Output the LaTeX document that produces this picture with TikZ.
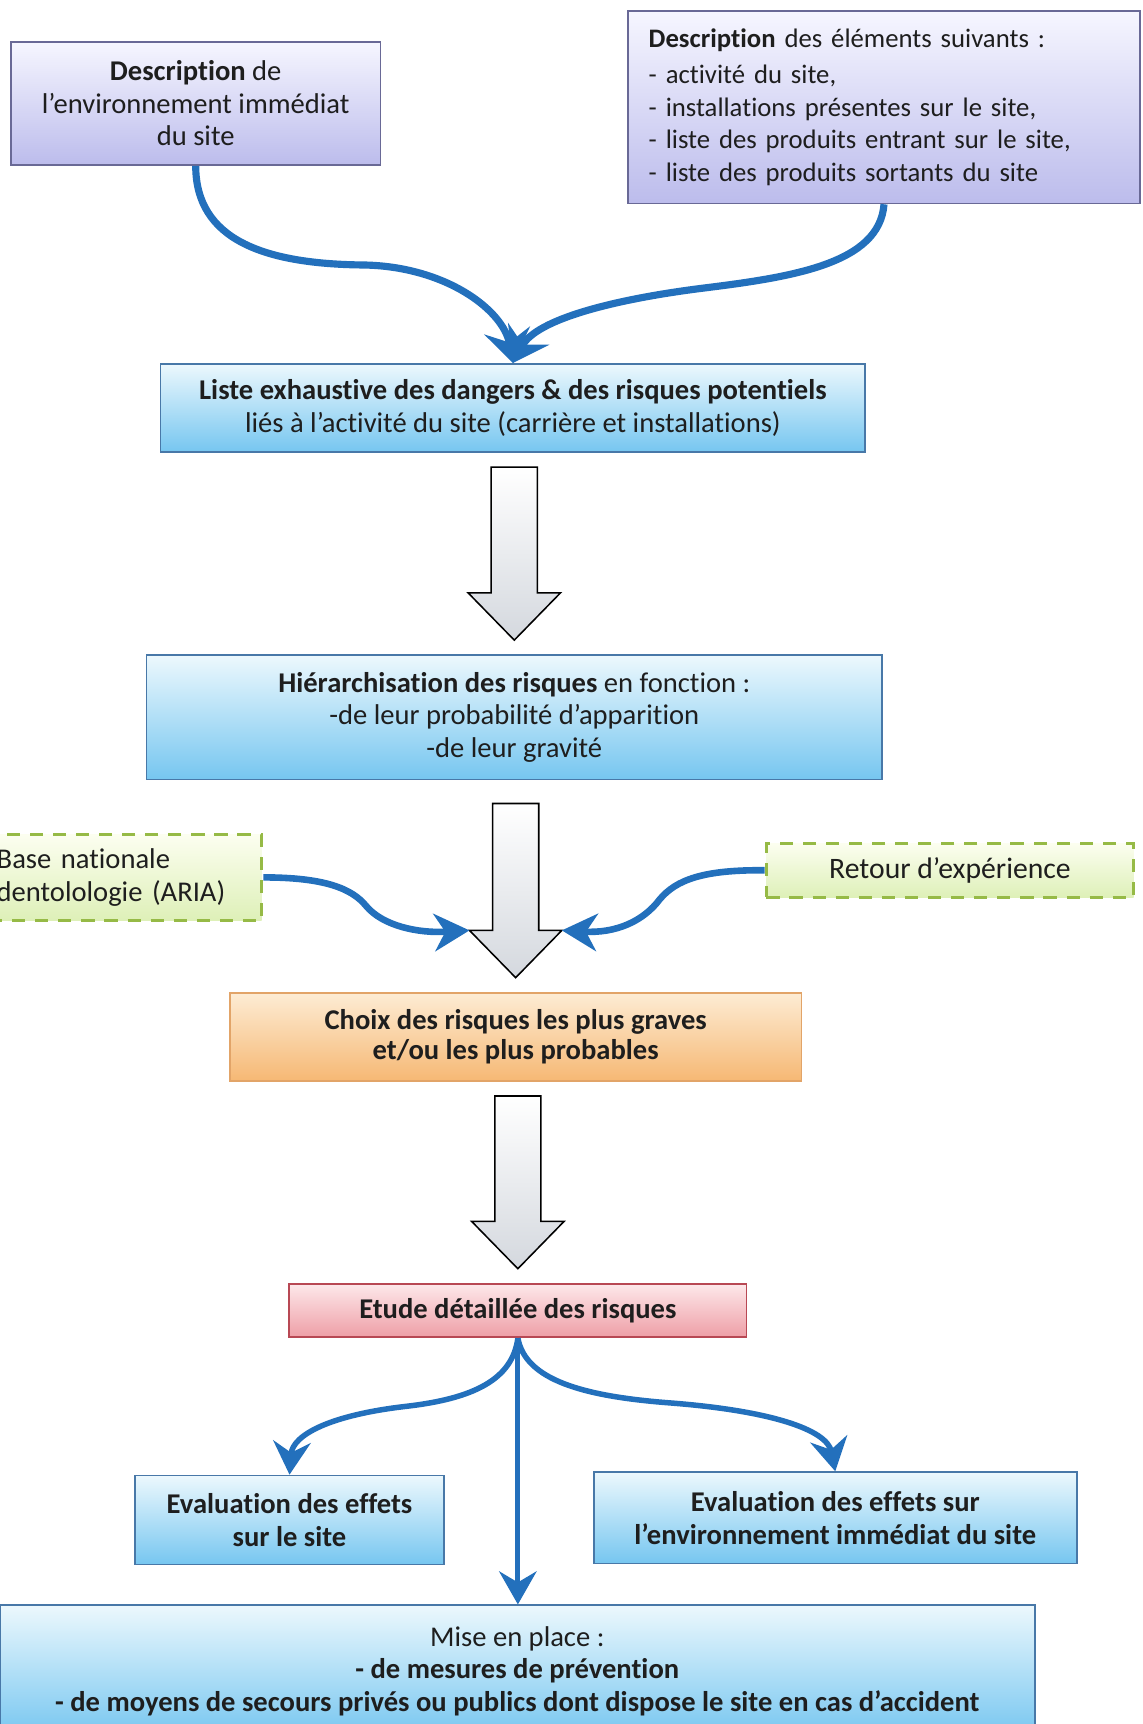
\documentclass[tikz,border=0pt]{standalone}
\usepackage{fontspec}
\setmainfont{Carlito}[Ligatures=NoCommon]
\usetikzlibrary{arrows.meta,calc}
\definecolor{arrowblue}{RGB}{35,112,188}
\definecolor{lavtop}{RGB}{246,246,255}
\definecolor{lavbot}{RGB}{188,188,236}
\definecolor{lavline}{RGB}{105,105,150}
\definecolor{bluetop}{RGB}{236,248,253}
\definecolor{bluebot}{RGB}{118,198,240}
\definecolor{blueline}{RGB}{72,120,168}
\definecolor{orgtop}{RGB}{253,236,212}
\definecolor{orgbot}{RGB}{246,184,116}
\definecolor{orgline}{RGB}{226,164,104}
\definecolor{pinktop}{RGB}{253,232,234}
\definecolor{pinkbot}{RGB}{238,158,166}
\definecolor{pinkline}{RGB}{184,72,84}
\definecolor{grntop}{RGB}{252,254,240}
\definecolor{grnbot}{RGB}{222,240,184}
\definecolor{grnline}{RGB}{150,186,70}
\definecolor{bagray}{RGB}{212,216,222}
\definecolor{txt}{RGB}{30,30,30}
\tikzset{
  basebox/.style={rectangle, inner sep=0pt, align=center, line width=1.6pt, text=txt,
    font=\fontsize{26}{29.5}\selectfont},
  lavbox/.style={basebox, draw=lavline, top color=lavtop, bottom color=lavbot},
  bluebox/.style={basebox, draw=blueline, top color=bluetop, bottom color=bluebot},
  orangebox/.style={basebox, draw=orgline, top color=orgtop, bottom color=orgbot},
  pinkbox/.style={basebox, draw=pinkline, top color=pinktop, bottom color=pinkbot},
  greenbox/.style={basebox, draw=grnline, line width=3pt, dash pattern=on 12pt off 9pt,
    top color=grntop, bottom color=grnbot},
  blockarrow/.style={draw=black, line width=1.4pt, line join=miter, top color=white, bottom color=bagray},
  flowbig/.style={draw=arrowblue, line width=6.5pt, -{Stealth[length=30pt,width=42pt,inset=11pt]}},
  flowmid/.style={draw=arrowblue, line width=6pt, -{Stealth[length=32pt,width=34pt,inset=10pt]}},
  flowsm/.style={draw=arrowblue, line width=5pt, -{Stealth[length=30pt,width=34pt,inset=10pt]}},
}
\newcommand\blockarr[4]{%
  \draw[blockarrow] let \p1=(#1.south), \p2=(#2.north) in
    (\x2-21pt,\y1-#3pt) -- (\x2+21pt,\y1-#3pt) -- (\x2+21pt,\y2+56pt)
    -- (\x2+42pt,\y2+56pt) coordinate (#4R) -- (\x2,\y2+13pt)
    -- (\x2-42pt,\y2+56pt) coordinate (#4L) -- (\x2-21pt,\y2+56pt) -- cycle;}
\begin{document}
\begin{tikzpicture}[x=1pt,y=-1pt]
\useasboundingbox (0,0) rectangle (1039,1568);
\fill[white] (0,0) rectangle (1039,1568);

% boxes
\node[lavbox, minimum width=336pt, minimum height=112pt] (b1) at (178,94)
  {\textbf{Description} de\\l’environnement immédiat\\du site};
\node[lavbox, minimum width=466pt, minimum height=175pt, text width=428pt, align=left,
  font=\fontsize{24.3}{29.8}\selectfont] (b2) at (804,97.5)
  {\textbf{Description} des éléments suivants :\\[3pt]
   - activité du site,\\
   - installations présentes sur le site,\\
   - liste des produits entrant sur le site,\\
   - liste des produits sortants du site};
\node[bluebox, minimum width=641pt, minimum height=80pt] (b3) at (466.5,371)
  {\textbf{Liste exhaustive des dangers \& des risques potentiels}\\liés à l’activité du site (carrière et installations)};
\node[bluebox, minimum width=669pt, minimum height=113pt] (b4) at (467.75,652.5)
  {\textbf{Hiérarchisation des risques} en fonction :\\-de leur probabilité d’apparition\\-de leur gravité};
\node[greenbox, minimum width=248pt, minimum height=78pt, text width=234pt, align=left] (lbox) at (114,798)
  {Base nationale\\dentolologie (ARIA)};
\node[greenbox, minimum width=334pt, minimum height=49pt, font=\fontsize{27}{29.5}\selectfont] (rbox) at (864,791.5)
  {Retour d’expérience};
\node[orangebox, minimum width=520pt, minimum height=80pt,
  font=\fontsize{26}{27.5}\selectfont\bfseries] (b5) at (469,943)
  {Choix des risques les plus graves\\et/ou les plus probables};
\node[pinkbox, minimum width=416pt, minimum height=48.6pt, font=\fontsize{26}{29.5}\selectfont\bfseries] (b6) at (471,1192)
  {Etude détaillée des risques};
\node[bluebox, minimum width=281.4pt, minimum height=81pt, font=\fontsize{26}{30}\selectfont\bfseries] (b7) at (263.3,1382.5)
  {Evaluation des effets\\sur le site};
\node[bluebox, minimum width=439.4pt, minimum height=83pt, font=\fontsize{26}{29.5}\selectfont\bfseries] (b8) at (759.7,1380.5)
  {Evaluation des effets sur\\l’environnement immédiat du site};
\node[bluebox, minimum width=941pt, minimum height=120pt] (b9) at (470.5,1520)
  {Mise en place :\\\textbf{- de mesures de prévention}\\\textbf{- de moyens de secours privés ou publics dont dispose le site en cas d’accident}};

% block arrows
\blockarr{b3}{b4}{13}{ba1}
\blockarr{b4}{b5}{21}{ba2}
\blockarr{b5}{b6}{13}{ba3}

% curved connectors
\draw[flowbig] (b1.south) .. controls (178,218) and (240,240) .. (330,241)
  .. controls (405,242) and (458,282) .. (b3.north);
\draw[flowbig] (b2.south) .. controls (800,240) and (720,252) .. (640,262)
  .. controls (560,272) and (488,290) .. (b3.north);
\draw[flowmid] (lbox.east) .. controls (295,798) and (320,808) .. (333,824)
  .. controls (348,842) and (380,849) .. (ba2L);
\draw[flowmid] (rbox.west) .. controls (640,791) and (615,800) .. (600,818)
  .. controls (585,838) and (560,849) .. (ba2R);
\draw[flowsm] (b6.south) .. controls (466,1255) and (430,1272) .. (370,1279)
  .. controls (300,1287) and (266,1305) .. (b7.north);
\draw[flowsm] (b6.south) .. controls (478,1255) and (530,1270) .. (610,1276)
  .. controls (700,1283) and (752,1300) .. (b8.north);
\draw[flowsm, line width=4.5pt] (b6.south) -- (b6.south |- b9.north);
\end{tikzpicture}
\end{document}
